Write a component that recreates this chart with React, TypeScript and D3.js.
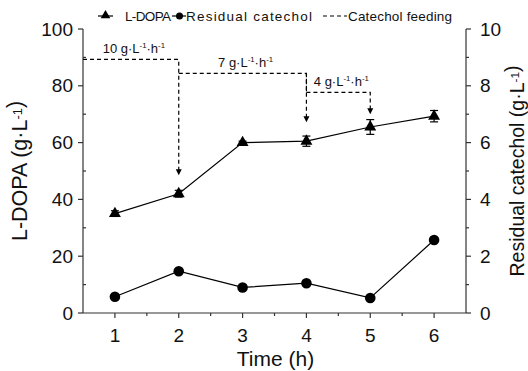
import React from 'react';
import * as d3 from 'd3';

// time points (h)
const times = [1, 2, 3, 4, 5, 6];
// L-DOPA (g/L), left axis
const ldopa = [35, 42, 60, 60.5, 65.5, 69.3];
const ldopaErr = [1, 1.2, 0.5, 1.8, 2.6, 2];
// residual catechol (g/L), right axis
const catechol = [0.57, 1.47, 0.9, 1.05, 0.53, 2.57];

// catechol feeding stages: rate, start/end time, level and arrow tip (left axis units)
const feedRates = ['10', '7', '4'];
const feedStart = [0.5, 2, 4];
const feedEnd = [2, 4, 5];
const feedLevel = [89.3, 84.4, 77.7];
const feedArrowTip = [48.5, 67.2, 70];

const leftTicks = [0, 20, 40, 60, 80, 100];
const rightTicks = [0, 2, 4, 6, 8, 10];

const W = 528;
const H = 371;
const FONT = '"Liberation Sans", Arial, sans-serif';

const x = d3.scaleLinear().domain([0.5, 6.5]).range([83, 466]);
const yL = d3.scaleLinear().domain([0, 100]).range([313, 29]);
const yR = d3.scaleLinear().domain([0, 10]).range([313, 29]);

const Unit = ({ rate }: { rate?: string }) => (
  <>
    {rate ? rate + '  ' : ''}g·L
    <tspan dy={-5} fontSize="0.6em">-1</tspan>
    {rate ? (
      <>
        <tspan dy={5}>·h</tspan>
        <tspan dy={-5} fontSize="0.6em">-1</tspan>
      </>
    ) : null}
  </>
);

const Arrow = ({ cx, tip }: { cx: number; tip: number }) => (
  <path d={`M${cx - 3},${tip - 6} L${cx + 3},${tip - 6} L${cx},${tip} Z`} fill="#000" />
);

export default function App() {
  const line = d3.line<number>().x((_, i) => x(times[i]));
  const ldopaPath = line.y((d) => yL(d))(ldopa) || '';
  const catPath = d3.line<number>().x((_, i) => x(times[i])).y((d) => yR(d))(catechol) || '';
  const tri = d3.symbol(d3.symbolTriangle, 62)() || '';
  const axisColor = '#333';

  const xMinor = d3.range(1.5, 6.5, 1);
  const lMinor = d3.range(10, 100, 20);
  const rMinor = d3.range(1, 10, 2);

  return (
    <svg width={W} height={H} style={{ position: 'absolute', left: 0, top: 0, background: '#fff' }} fontFamily={FONT}>
      {/* axes */}
      <g stroke={axisColor} strokeWidth={1.2} fill="none">
        <line x1={83} x2={83} y1={yL(100)} y2={yL(0)} />
        <line x1={466} x2={466} y1={yR(10)} y2={yR(0)} />
        <line x1={83} x2={466} y1={313} y2={313} />
        {leftTicks.map((t) => (
          <line key={'lt' + t} x1={78} x2={83} y1={yL(t)} y2={yL(t)} />
        ))}
        {lMinor.map((t) => (
          <line key={'lm' + t} x1={83} x2={86} y1={yL(t)} y2={yL(t)} />
        ))}
        {rightTicks.map((t) => (
          <line key={'rt' + t} x1={466} x2={471} y1={yR(t)} y2={yR(t)} />
        ))}
        {rMinor.map((t) => (
          <line key={'rm' + t} x1={466} x2={469} y1={yR(t)} y2={yR(t)} />
        ))}
        {times.map((t) => (
          <line key={'xt' + t} x1={x(t)} x2={x(t)} y1={313} y2={318} />
        ))}
        {xMinor.map((t) => (
          <line key={'xm' + t} x1={x(t)} x2={x(t)} y1={313} y2={316} />
        ))}
      </g>
      <g fontSize={19} fill="#111">
        {leftTicks.map((t) => (
          <text key={'ll' + t} x={73} y={yL(t)} dy="0.35em" textAnchor="end">{t}</text>
        ))}
        {rightTicks.map((t) => (
          <text key={'rl' + t} x={480} y={yR(t)} dy="0.35em">{t}</text>
        ))}
        {times.map((t) => (
          <text key={'xl' + t} x={x(t)} y={342} textAnchor="middle">{t}</text>
        ))}
      </g>
      <text x={x(3.5) + 1} y={366} fontSize={21} textAnchor="middle" fill="#111">Time (h)</text>
      <text transform={`translate(27,${yL(50)}) rotate(-90)`} fontSize={21.5} textAnchor="middle" fill="#111">
        L-DOPA (<Unit />)
      </text>
      <text transform={`translate(524,${yR(5)}) rotate(-90)`} fontSize={19.5} textAnchor="middle" fill="#111">
        Residual catechol (<Unit />)
      </text>

      {/* catechol feeding */}
      <g stroke="#000" strokeWidth={1.2} strokeDasharray="4 3" fill="none">
        {feedRates.map((r, i) => (
          <path
            key={'f' + r}
            d={`M${x(feedStart[i])},${yL(feedLevel[i])} H${x(feedEnd[i])} V${yL(feedArrowTip[i]) - 5}`}
          />
        ))}
        <line x1={x(feedStart[2])} x2={x(feedStart[2])} y1={yL(feedLevel[1])} y2={yL(feedLevel[2])} />
      </g>
      {feedRates.map((r, i) => (
        <Arrow key={'a' + r} cx={x(feedEnd[i])} tip={yL(feedArrowTip[i])} />
      ))}
      <g fontSize={13} fill="#111">
        {feedRates.map((r, i) => (
          <text
            key={'fl' + r}
            x={(x(feedStart[i]) + x(feedEnd[i])) / 2 + 3}
            y={yL(feedLevel[i]) - 6}
            textAnchor="middle"
          >
            <Unit rate={r} />
          </text>
        ))}
      </g>

      {/* L-DOPA */}
      <path d={ldopaPath} fill="none" stroke="#000" strokeWidth={1.2} />
      <g stroke="#000" strokeWidth={1.2}>
        {times.map((t, i) => (
          <g key={'e' + t}>
            <line x1={x(t)} x2={x(t)} y1={yL(ldopa[i] - ldopaErr[i])} y2={yL(ldopa[i] + ldopaErr[i])} />
            <line x1={x(t) - 4} x2={x(t) + 4} y1={yL(ldopa[i] - ldopaErr[i])} y2={yL(ldopa[i] - ldopaErr[i])} />
            <line x1={x(t) - 4} x2={x(t) + 4} y1={yL(ldopa[i] + ldopaErr[i])} y2={yL(ldopa[i] + ldopaErr[i])} />
          </g>
        ))}
      </g>
      {times.map((t, i) => (
        <path key={'tr' + t} d={tri} transform={`translate(${x(t)},${yL(ldopa[i])})`} fill="#000" />
      ))}

      {/* residual catechol */}
      <path d={catPath} fill="none" stroke="#000" strokeWidth={1.2} />
      {times.map((t, i) => (
        <circle key={'c' + t} cx={x(t)} cy={yR(catechol[i])} r={5.3} fill="#000" />
      ))}

      {/* legend */}
      <g fontSize={13.5} fill="#111">
        <line x1={98} x2={113} y1={16} y2={16} stroke="#000" strokeWidth={1.2} />
        <path d={d3.symbol(d3.symbolTriangle, 40)() || ''} transform="translate(105.5,15.5)" fill="#000" />
        <text x={125} y={16} dy="0.35em" textLength={46}>L-DOPA</text>
        <line x1={172} x2={186} y1={16} y2={16} stroke="#000" strokeWidth={1.2} />
        <circle cx={179.5} cy={16} r={3.5} fill="#000" />
        <text x={186} y={16} dy="0.35em" textLength={126}>Residual catechol</text>
        <line x1={323} x2={347} y1={16} y2={16} stroke="#000" strokeWidth={1.2} strokeDasharray="4 3" />
        <text x={348} y={16} dy="0.35em" textLength={104}>Catechol feeding</text>
      </g>
    </svg>
  );
}
